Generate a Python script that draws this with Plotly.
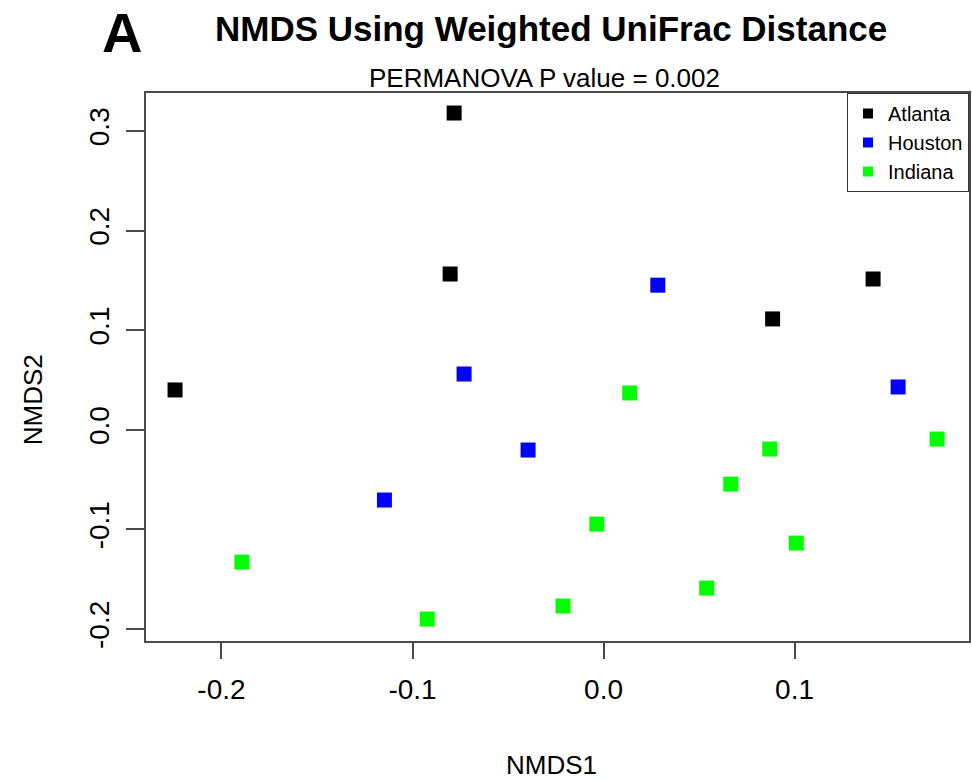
import plotly.graph_objects as go

groups = ["Atlanta", "Houston", "Indiana"]
colors = ["#000000", "#0000FF", "#00FF00"]

atlanta_x = [-0.0782, -0.0803, -0.2243, 0.0885, 0.1411]
atlanta_y = [0.318, 0.1564, 0.040, 0.1113, 0.1514]

houston_x = [0.0284, -0.0730, -0.0395, -0.1147, 0.1542]
houston_y = [0.1452, 0.056, -0.0203, -0.0705, 0.043]

indiana_x = [0.0137, 0.1746, 0.0870, 0.0666, -0.0035, 0.1009, -0.1893, 0.0540, -0.0212, -0.0923]
indiana_y = [0.037, -0.0093, -0.0193, -0.0545, -0.0946, -0.1137, -0.1328, -0.1589, -0.1769, -0.190]

x_ticks = [-0.2, -0.1, 0.0, 0.1]
x_tick_labels = ["-0.2", "-0.1", "0.0", "0.1"]
y_ticks = [-0.2, -0.1, 0.0, 0.1, 0.2, 0.3]
y_tick_labels = ["-0.2", "-0.1", "0.0", "0.1", "0.2", "0.3"]

FONT = "Liberation Sans, Arial, sans-serif"
AXC = "#4a4a4a"

fig = go.Figure()
data = [(atlanta_x, atlanta_y), (houston_x, houston_y), (indiana_x, indiana_y)]
for name, col, (xs, ys) in zip(groups, colors, data):
    fig.add_trace(go.Scatter(
        x=xs, y=ys, mode="markers", name=name, showlegend=False,
        marker=dict(symbol="square", size=15, color=col, line=dict(width=0)),
    ))
# legend entries with smaller symbols
for name, col in zip(groups, colors):
    fig.add_trace(go.Scatter(
        x=[None], y=[None], mode="markers", name=name,
        marker=dict(symbol="square", size=10, color=col, line=dict(width=0)),
    ))

fig.update_layout(
    width=972, height=781,
    margin=dict(l=146, r=1, t=93, b=140),
    paper_bgcolor="white", plot_bgcolor="white",
    font=dict(family=FONT, color="black"),
    showlegend=True,
    legend=dict(
        x=1, y=1, xanchor="right", yanchor="top",
        bordercolor="#333333", borderwidth=1,
        bgcolor="white",
        font=dict(size=20, family=FONT, color="black"),
        itemwidth=30, tracegroupgap=0,
    ),
    xaxis=dict(
        range=[-0.2395, 0.1913], tickvals=x_ticks, ticktext=x_tick_labels,
        showgrid=False, zeroline=False, showline=True, mirror=True,
        linecolor=AXC, linewidth=2, ticks="outside", ticklen=16,
        tickwidth=2, tickcolor=AXC, tickfont=dict(size=28, family=FONT),
        ticklabelstandoff=6,
    ),
    yaxis=dict(
        range=[-0.2120, 0.3381], tickvals=y_ticks, ticktext=y_tick_labels,
        showgrid=False, zeroline=False, showline=True, mirror=True,
        linecolor=AXC, linewidth=2, ticks="outside", ticklen=18,
        tickwidth=2, tickcolor=AXC, tickfont=dict(size=28, family=FONT),
        tickangle=-90, ticklabelstandoff=6,
    ),
    annotations=[
        dict(text="<b>NMDS Using Weighted UniFrac Distance</b>", x=0.492, y=1.1186,
             xref="paper", yref="paper", showarrow=False, xanchor="center", yanchor="middle",
             font=dict(size=35, family=FONT, color="black")),
        dict(text="<b>A</b>", x=-0.029, y=1.1095,
             xref="paper", yref="paper", showarrow=False, xanchor="center", yanchor="middle",
             font=dict(size=56, family=FONT, color="black")),
        dict(text="PERMANOVA P value = 0.002", x=0.4836, y=1.0274,
             xref="paper", yref="paper", showarrow=False, xanchor="center", yanchor="middle",
             font=dict(size=26, family=FONT, color="black")),
        dict(text="NMDS1", x=0.493, y=-0.2263,
             xref="paper", yref="paper", showarrow=False, xanchor="center", yanchor="middle",
             font=dict(size=26, family=FONT, color="black")),
        dict(text="NMDS2", x=-0.138, y=0.44, textangle=-90,
             xref="paper", yref="paper", showarrow=False, xanchor="center", yanchor="middle",
             font=dict(size=26, family=FONT, color="black")),
    ],
)

fig.write_html(
    "out.html",
    config={"displayModeBar": False},
    post_script="document.body.style.margin='0';document.body.style.overflow='hidden';",
)
